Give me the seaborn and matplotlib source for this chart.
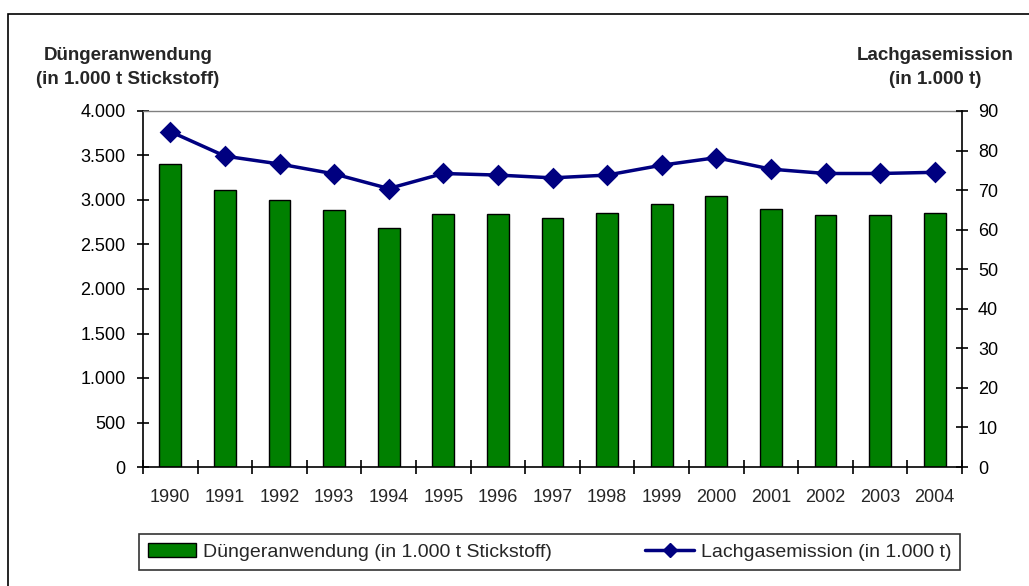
import numpy as np
import pandas as pd
import matplotlib
matplotlib.use("Agg")
import matplotlib.pyplot as plt
from matplotlib.patches import Patch, Rectangle
from matplotlib.lines import Line2D
from matplotlib.ticker import FuncFormatter, MultipleLocator, FixedLocator
import seaborn as sns

# Data: fertiliser use (1,000 t nitrogen) and nitrous oxide emissions (1,000 t)
years = ["1990", "1991", "1992", "1993", "1994", "1995", "1996", "1997",
         "1998", "1999", "2000", "2001", "2002", "2003", "2004"]
duenger = [3400, 3110, 3000, 2890, 2680, 2840, 2840, 2800,
           2850, 2960, 3050, 2900, 2830, 2830, 2850]
lachgas = [84.8, 78.6, 76.6, 74.1, 70.4, 74.2, 73.8, 73.1,
           73.8, 76.3, 78.2, 75.3, 74.2, 74.2, 74.5]

label_bar = "Düngeranwendung (in 1.000 t Stickstoff)"
label_line = "Lachgasemission (in 1.000 t)"

sns.set_style("white")
plt.rcParams["font.family"] = ["Liberation Sans", "DejaVu Sans"]

GREEN = "#008000"
NAVY = "#000080"

df = pd.DataFrame({"Jahr": years, "Duenger": duenger, "Lachgas": lachgas})

fig = plt.figure(figsize=(10.29, 5.86), dpi=100)
W, H = 1029, 586
ax = fig.add_axes([143 / W, 1 - 467 / H, (962 - 143) / W, (467 - 111) / H])

sns.barplot(data=df, x="Jahr", y="Duenger", color=GREEN, width=0.4,
            edgecolor="black", linewidth=1.0, saturation=1, ax=ax)
ax.set_ylim(0, 4000)
ax.yaxis.set_major_locator(MultipleLocator(500))
ax.yaxis.set_major_formatter(FuncFormatter(lambda v, p: f"{v:,.0f}".replace(",", ".")))

ax2 = ax.twinx()
sns.pointplot(data=df, x="Jahr", y="Lachgas", color=NAVY, markers="D",
              markersize=9, linewidth=2.5, ax=ax2)
ax2.set_ylim(0, 90)
ax2.yaxis.set_major_locator(MultipleLocator(10))
ax.set_xlim(-0.5, len(years) - 0.5)
ax2.set_xlim(-0.5, len(years) - 0.5)

for a in (ax, ax2):
    a.set_xlabel("")
    a.set_ylabel("")
    a.grid(False)

# Spines: black axes, grey top border
for s in ("left", "bottom"):
    ax.spines[s].set_color("black")
    ax.spines[s].set_linewidth(1.2)
ax.spines["right"].set_visible(False)
ax.spines["top"].set_color("#808080")
ax.spines["top"].set_linewidth(1.0)
ax2.spines["right"].set_color("black")
ax2.spines["right"].set_linewidth(1.2)
for s in ("left", "bottom", "top"):
    ax2.spines[s].set_visible(False)

# Ticks crossing the axes
ax.tick_params(axis="y", which="major", direction="inout", length=9, width=1.2,
               colors="black", labelsize=13, pad=8, left=True)
ax2.tick_params(axis="y", which="major", direction="inout", length=9, width=1.2,
                colors="black", labelsize=13, pad=7, right=True)
ax.xaxis.set_minor_locator(FixedLocator(np.arange(-0.5, len(years), 1.0)))
ax.tick_params(axis="x", which="major", length=0, labelsize=13, pad=16)
ax.tick_params(axis="x", which="minor", direction="inout", length=10, width=1.2,
               colors="black", bottom=True)
ax2.tick_params(axis="x", which="both", length=0, labelbottom=False)

# Axis titles
title_kw = dict(ha="center", va="center", fontsize=13.5, fontweight="bold")
fig.text(128 / W, 1 - 55 / H, "Düngeranwendung", **title_kw)
fig.text(128 / W, 1 - 80 / H, "(in 1.000 t Stickstoff)", **title_kw)
fig.text(935 / W, 1 - 55 / H, "Lachgasemission", **title_kw)
fig.text(935 / W, 1 - 80 / H, "(in 1.000 t)", **title_kw)

# Legend
handles = [
    Patch(facecolor=GREEN, edgecolor="black", linewidth=1.0, label=label_bar),
    Line2D([0], [0], color=NAVY, linewidth=2.5, marker="D", markersize=7,
           label=label_line),
]
leg = fig.legend(handles=handles, loc="center", ncol=2,
                 bbox_to_anchor=(549.5 / W, 1 - 552 / H), frameon=True,
                 fancybox=False, edgecolor="black", fontsize=14,
                 handlelength=2.5, handleheight=0.7, handletextpad=0.35,
                 columnspacing=4.8, borderpad=0.45, borderaxespad=0)
leg.get_frame().set_linewidth(1.2)

# Outer chart border
fig.patches.append(Rectangle((7.5 / W, -0.1), 1.2, 1.1 - 13.5 / H,
                             transform=fig.transFigure, fill=False,
                             edgecolor="black", linewidth=1.2, zorder=0))

fig.savefig("out.png", dpi=100)
